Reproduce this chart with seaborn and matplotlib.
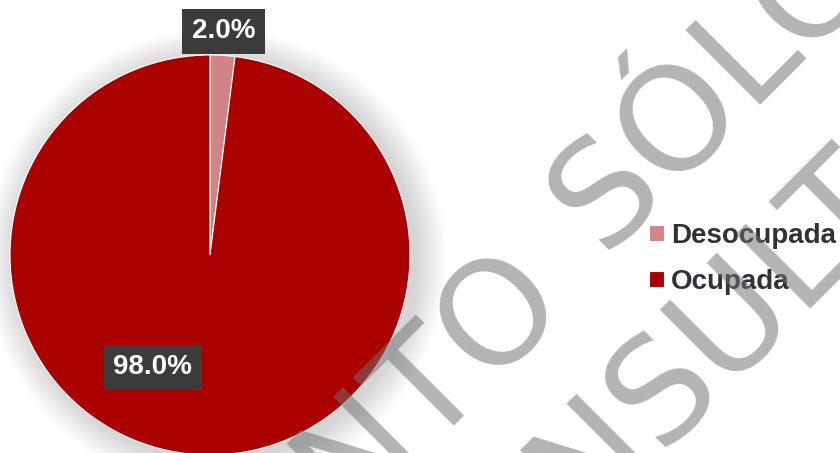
import numpy as np
import matplotlib
matplotlib.use("Agg")
import matplotlib.pyplot as plt
import seaborn as sns

# data
labels = ["Desocupada", "Ocupada"]
values = [2.0, 98.0]
colors = ["#d38383", "#ab0000"]

sns.set_theme(style="white")
plt.rcParams["font.family"] = ["Liberation Sans", "DejaVu Sans"]

W, H = 840, 453
fig = plt.figure(figsize=(W / 100, H / 100), dpi=100)
ax = fig.add_axes([0, 0, 1, 1])

cx, cy, r = 210, H - 255, 200

# soft shadow around the pie
for k in range(14):
    ax.add_patch(plt.Circle((cx + 6, cy - 4), r + 2 + k * 2.2, color="black",
                            alpha=0.012, lw=0, zorder=0))

wedges, _ = ax.pie(values, colors=colors, startangle=90, counterclock=False,
                   center=(cx, cy), radius=r,
                   wedgeprops=dict(edgecolor="white", linewidth=0.8))
for w in wedges:
    w.set_zorder(2)

ax.set_xlim(0, W)
ax.set_ylim(0, H)
ax.set_aspect("equal")
ax.axis("off")

# percentage labels
box = dict(boxstyle="square,pad=0.35", facecolor="#3b3b3b", edgecolor="none")
ang0 = 90 - 360 * values[0] / 200
ax.text(cx + 1.1 * r * np.cos(np.radians(ang0)), cy + 1.12 * r * np.sin(np.radians(ang0)),
        f"{values[0]:.1f}%", ha="center", va="center", color="white",
        fontsize=20, fontweight="bold", bbox=box, zorder=5)
ax.text(cx + 0.63 * r * np.cos(np.radians(-117)), cy + 0.63 * r * np.sin(np.radians(-117)),
        f"{values[1]:.1f}%", ha="center", va="center", color="white",
        fontsize=20, fontweight="bold", bbox=box, zorder=5)

leg = ax.legend(wedges, labels, loc="upper left", bbox_to_anchor=(0.756, 0.539),
                frameon=False, borderpad=0, handlelength=0.55, handleheight=0.55,
                handletextpad=0.25, labelspacing=0.72,
                prop=dict(size=20, weight="bold"))
for t in leg.get_texts():
    t.set_color("#2f3338")

# watermark
wm = dict(rotation=45, rotation_mode="anchor", fontsize=104, color="#707070",
          alpha=0.53, family=["DejaVu Sans"], va="baseline", zorder=10)
fig.text(0.675, 0.342, "DOCUMENTO", ha="right", **wm)
fig.text(0.7209, 0.4274, "SÓLO PARA", ha="left", **wm)
fig.text(0.7847, 0.0045, "CON", ha="right", **wm)
fig.text(0.7847, 0.0045, "SULTA", ha="left", **wm)

fig.savefig("out.png", dpi=100)
